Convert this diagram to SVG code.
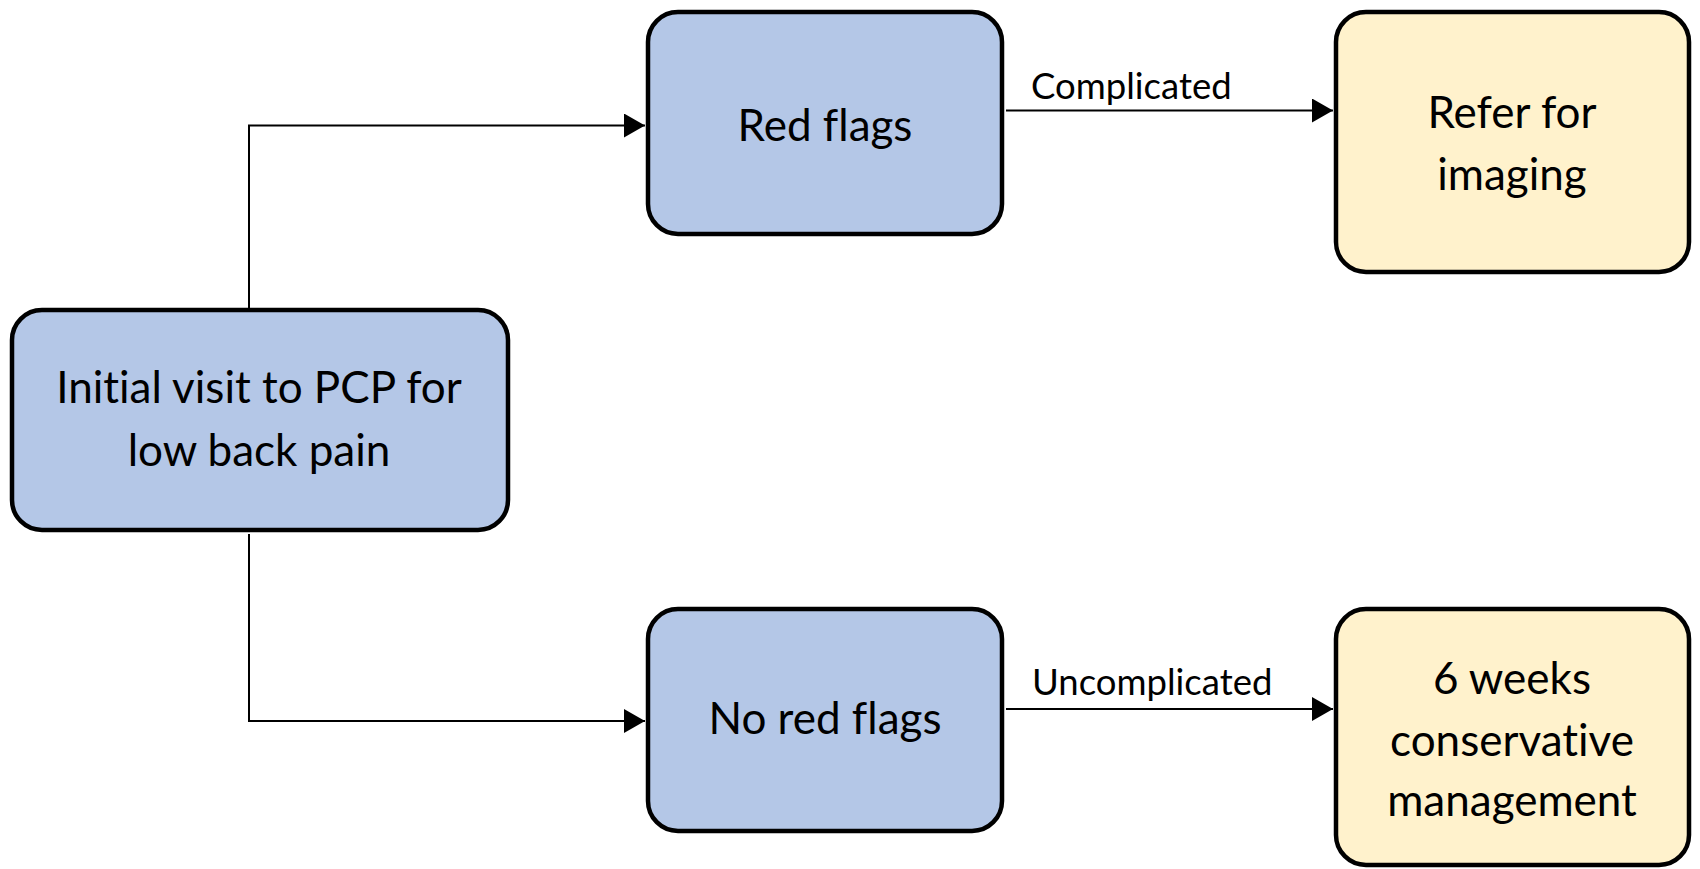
<svg xmlns="http://www.w3.org/2000/svg" width="1700" height="869" viewBox="0 0 1700 869">
  <style>
    .box { stroke: #000; stroke-width: 4.5; }
    .blue { fill: #B4C7E7; }
    .yellow { fill: #FFF2CC; }
    .t { font-family: Lato, "Open Sans", "Liberation Sans", sans-serif; font-size: 44px; fill: #000; text-anchor: middle; font-variant-ligatures: none; }
    .lbl { font-family: Lato, "Open Sans", "Liberation Sans", sans-serif; font-size: 36.5px; fill: #000; font-variant-ligatures: none; }
    .conn { fill: none; stroke: #000; stroke-width: 2; }
  </style>
  <defs>
    <marker id="arrow" markerUnits="userSpaceOnUse" markerWidth="22" markerHeight="26" refX="21" refY="12" orient="auto">
      <path d="M0,0 L21,12 L0,24 Z" fill="#000"/>
    </marker>
  </defs>
  <g id="connectors">
    <path class="conn" d="M249,309 V125.5 H645" marker-end="url(#arrow)"/>
    <path class="conn" d="M249,534 V721 H645" marker-end="url(#arrow)"/>
    <path class="conn" d="M1006,110.5 H1333" marker-end="url(#arrow)"/>
    <path class="conn" d="M1006,709 H1333" marker-end="url(#arrow)"/>
    <text class="lbl" x="1031" y="99">Complicated</text>
    <text class="lbl" x="1032" y="695">Uncomplicated</text>
  </g>
  <g id="initial">
    <rect class="box blue" x="12" y="310" width="496" height="220" rx="30"/>
    <text class="t" x="259" y="403">Initial visit to PCP for</text>
    <text class="t" x="259" y="466">low back pain</text>
  </g>
  <g id="red-flags">
    <rect class="box blue" x="648" y="12" width="354" height="222" rx="30"/>
    <text class="t" x="825" y="141">Red flags</text>
  </g>
  <g id="no-red-flags">
    <rect class="box blue" x="648" y="609" width="354" height="222" rx="30"/>
    <text class="t" x="825" y="734">No red flags</text>
  </g>
  <g id="refer-imaging">
    <rect class="box yellow" x="1336" y="12" width="353" height="260" rx="30"/>
    <text class="t" x="1512" y="128">Refer for</text>
    <text class="t" x="1512" y="190">imaging</text>
  </g>
  <g id="conservative">
    <rect class="box yellow" x="1336" y="609" width="353" height="256" rx="30"/>
    <text class="t" x="1512" y="694">6 weeks</text>
    <text class="t" x="1512" y="756">conservative</text>
    <text class="t" x="1512" y="816">management</text>
  </g>
</svg>
